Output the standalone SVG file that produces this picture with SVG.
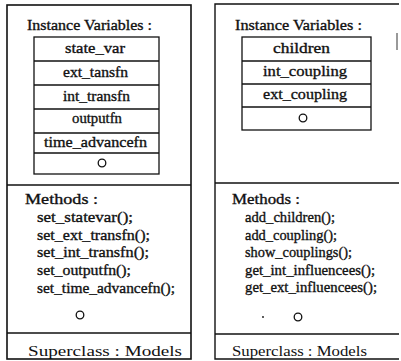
<svg xmlns="http://www.w3.org/2000/svg" width="401" height="361" viewBox="0 0 401 361">
<style>
.frame{fill:none;stroke:#111;stroke-width:1.6}
.line{stroke:#111;stroke-width:1.4;fill:none}
.cell{fill:none;stroke:#111;stroke-width:1.3}
.t{font-family:"Liberation Serif","Times New Roman",serif;font-size:15px;fill:#111;stroke:#111;stroke-width:0.35}
.r{stroke:none}
.circ{fill:none;stroke:#111;stroke-width:1.3}
</style>
<rect width="401" height="361" fill="#fff"/>
<g id="atomic-model">
<rect class="frame" x="7" y="5" width="184" height="354"/>
<line class="line" x1="7" y1="185" x2="191" y2="185"/>
<line class="line" x1="7" y1="333" x2="191" y2="333"/>
<text class="t" x="27" y="30" textLength="125" lengthAdjust="spacingAndGlyphs">Instance Variables :</text>
<g id="atomic-vars">
<rect class="cell" x="34" y="37" width="125" height="137"/>
<line class="cell" x1="34" y1="61" x2="159" y2="61"/>
<line class="cell" x1="34" y1="85" x2="159" y2="85"/>
<line class="cell" x1="34" y1="109" x2="159" y2="109"/>
<line class="cell" x1="34" y1="133" x2="159" y2="133"/>
<line class="cell" x1="34" y1="153" x2="159" y2="153"/>
<text class="t" x="65" y="53" textLength="60" lengthAdjust="spacingAndGlyphs">state_var</text>
<text class="t" x="63" y="77" textLength="65" lengthAdjust="spacingAndGlyphs">ext_tansfn</text>
<text class="t" x="63" y="101" textLength="67" lengthAdjust="spacingAndGlyphs">int_transfn</text>
<text class="t" x="72" y="123" textLength="50" lengthAdjust="spacingAndGlyphs">outputfn</text>
<text class="t" x="44" y="147" textLength="103" lengthAdjust="spacingAndGlyphs">time_advancefn</text>
<circle class="circ" cx="102" cy="163" r="3.8"/>
</g>
<text class="t" x="25" y="204" textLength="73" lengthAdjust="spacingAndGlyphs">Methods :</text>
<text class="t" x="37" y="222" textLength="96" lengthAdjust="spacingAndGlyphs">set_statevar();</text>
<text class="t" x="37" y="240" textLength="113" lengthAdjust="spacingAndGlyphs">set_ext_transfn();</text>
<text class="t" x="37" y="257" textLength="112" lengthAdjust="spacingAndGlyphs">set_int_transfn();</text>
<text class="t" x="37" y="275" textLength="94" lengthAdjust="spacingAndGlyphs">set_outputfn();</text>
<text class="t" x="37" y="293" textLength="138" lengthAdjust="spacingAndGlyphs">set_time_advancefn();</text>
<circle class="circ" cx="80" cy="315" r="3.8"/>
<text class="t r" x="28" y="356" textLength="154" lengthAdjust="spacingAndGlyphs">Superclass : Models</text>
</g>
<g id="coupled-model">
<path class="line" d="M399,4 H215 V359 H399"/>
<line class="line" x1="215" y1="183" x2="399" y2="183"/>
<line class="line" x1="215" y1="334" x2="399" y2="334"/>
<line x1="397" y1="33" x2="397" y2="50" stroke="#777" stroke-width="1.5"/>
<text class="t" x="235" y="30" textLength="127" lengthAdjust="spacingAndGlyphs">Instance Variables :</text>
<g id="coupled-vars">
<rect class="cell" x="242" y="37" width="129" height="93"/>
<line class="cell" x1="242" y1="61" x2="371" y2="61"/>
<line class="cell" x1="242" y1="84" x2="371" y2="84"/>
<line class="cell" x1="242" y1="107" x2="371" y2="107"/>
<text class="t" x="273" y="53" textLength="57" lengthAdjust="spacingAndGlyphs">children</text>
<text class="t" x="263" y="76" textLength="84" lengthAdjust="spacingAndGlyphs">int_coupling</text>
<text class="t" x="263" y="99" textLength="84" lengthAdjust="spacingAndGlyphs">ext_coupling</text>
<circle class="circ" cx="303" cy="118" r="3.8"/>
</g>
<text class="t" x="232" y="204" textLength="68" lengthAdjust="spacingAndGlyphs">Methods :</text>
<text class="t" x="245" y="222" textLength="90" lengthAdjust="spacingAndGlyphs">add_children();</text>
<text class="t" x="245" y="240" textLength="92" lengthAdjust="spacingAndGlyphs">add_coupling();</text>
<text class="t" x="245" y="257" textLength="107" lengthAdjust="spacingAndGlyphs">show_couplings();</text>
<text class="t" x="245" y="275" textLength="130" lengthAdjust="spacingAndGlyphs">get_int_influencees();</text>
<text class="t" x="245" y="292" textLength="132" lengthAdjust="spacingAndGlyphs">get_ext_influencees();</text>
<circle cx="263" cy="317" r="0.9" fill="#111"/>
<circle class="circ" cx="298" cy="317" r="3.8"/>
<text class="t r" x="232" y="356" textLength="135" lengthAdjust="spacingAndGlyphs">Superclass : Models</text>
</g>
</svg>
